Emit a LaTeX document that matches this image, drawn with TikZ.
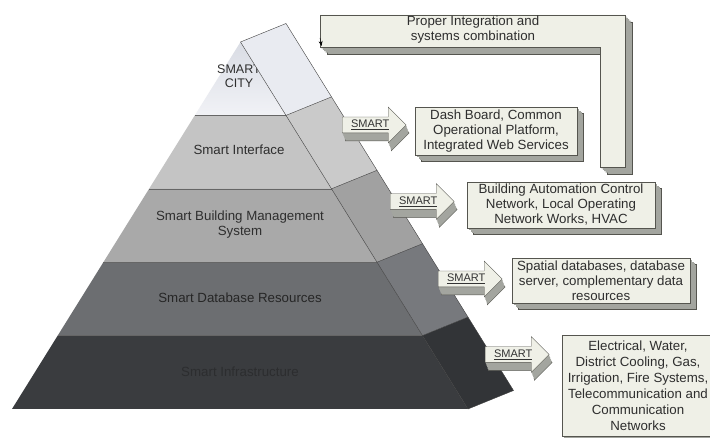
\documentclass[tikz,border=0pt]{standalone}
\usepackage{fontspec}
\setmainfont{Liberation Sans}
\usetikzlibrary{calc,shapes.arrows,shadows,arrows.meta}

\definecolor{cream}{HTML}{EFF0E7}
\definecolor{depthgray}{HTML}{A3A59F}
\definecolor{edgegray}{HTML}{55554F}
\definecolor{textgray}{HTML}{2E2E2E}
% pyramid layers, front and side faces
\definecolor{cityTop}{HTML}{D9DCE4}
\definecolor{cityBot}{HTML}{F1F2F6}
\definecolor{citySide}{HTML}{E9EBF1}
\definecolor{ifFront}{HTML}{C4C4C4}
\definecolor{ifSide}{HTML}{CACACA}
\definecolor{bmsFront}{HTML}{A9A9A9}
\definecolor{bmsSide}{HTML}{A1A1A1}
\definecolor{dbFront}{HTML}{6C6E71}
\definecolor{dbSide}{HTML}{77797D}
\definecolor{infFront}{HTML}{3A3C3F}
\definecolor{infSide}{HTML}{323437}

\tikzset{
    deep/.style 2 args={%
        copy shadow={shadow xshift=#1,shadow yshift=-#2,fill=depthgray,draw=edgegray},
        copy shadow={shadow xshift=.8*#1,shadow yshift=-.8*#2,fill=depthgray,draw=none},
        copy shadow={shadow xshift=.6*#1,shadow yshift=-.6*#2,fill=depthgray,draw=none},
        copy shadow={shadow xshift=.4*#1,shadow yshift=-.4*#2,fill=depthgray,draw=none},
        copy shadow={shadow xshift=.2*#1,shadow yshift=-.2*#2,fill=depthgray,draw=none}
    },
    infobox/.style={draw=edgegray,fill=cream,text=textgray,align=center,inner sep=0pt,
        font=\fontsize{13.3}{15}\selectfont,deep={6pt}{6pt}},
    smartarrow/.style={single arrow,draw=edgegray,fill=cream,text=black!80,anchor=tail,
        font=\fontsize{11}{12}\selectfont,minimum height=64pt,single arrow head extend=10pt,
        single arrow tip angle=90,inner xsep=3pt,inner ysep=2.5pt,text height=8pt,text depth=2.5pt,
        deep={3pt}{8pt}},
    layertext/.style={align=center,text=textgray,font=\fontsize{13.3}{15}\selectfont}
}

\begin{document}
\begin{tikzpicture}[x=1pt,y=-1pt]
    \clip (0,0) rectangle (710,438);
    \fill[white] (0,0) rectangle (710,438);
    \coordinate (apex) at (240.5,42);
    \coordinate (bl) at (12,409);
    \coordinate (br) at (468,409);
    %front faces of the layers
    \shade[top color=cityTop,bottom color=cityBot] (apex) -- ($(apex)!.2!(bl)$) -- ($(apex)!.2!(br)$) -- cycle;
    \foreach \a/\b/\c in {.2/.4/ifFront,.4/.6/bmsFront,.6/.8/dbFront,.8/1/infFront}
        {%
            \fill[\c] ($(apex)!\a!(bl)$) -- ($(apex)!\b!(bl)$) -- ($(apex)!\b!(br)$) -- ($(apex)!\a!(br)$) -- cycle;
            \draw[gray!80!black,thin] ($(apex)!\a!(bl)$) -- ($(apex)!\a!(br)$);
        }
    %layer names
    \node[layertext,font=\fontsize{12.5}{13.5}\selectfont] (city) at (239,76) {SMART\\CITY};
    \node[layertext] (iface) at (239,150) {Smart Interface};
    \node[layertext] (bms) at (240,224.5) {Smart Building Management\\System};
    \node[layertext,text=black!85] (db) at (240,298) {Smart Database Resources};
    \node[layertext,text=infFront!75!black] (infra) at (240,372) {Smart Infrastructure};
    %side faces
    \foreach \a/\b/\c in {0/.2/citySide,.2/.4/ifSide,.4/.6/bmsSide,.6/.8/dbSide,.8/1/infSide}
        {%
            \fill[\c] ($(apex)!\a!(br)$) -- ($(apex)!\b!(br)$) -- ($(apex)!\b!(br)+(45.5,-18.5)$) -- ($(apex)!\a!(br)+(45.5,-18.5)$) -- cycle;
            \draw[black!75,thin] ($(apex)!\a!(br)$) -- ($(apex)!\a!(br)+(45.5,-18.5)$);
        }
    \draw[black!75,thin] (apex) -- (br) -- ++(45.5,-18.5) -- ($(apex)+(45.5,-18.5)$);
    %integration frame
    \draw[edgegray,fill=cream,deep={7pt}{7pt}] (320,15) -- (625,15) -- (625,167) -- (600,167) -- (600,47) -- (320,47) -- cycle;
    \draw[-{Stealth[length=5pt,width=4pt]},black] (320,38) -- (321.5,46);
    \node[layertext] (integ) at (473,30) {Proper Integration and\\systems combination};
    %smart arrows
    \node[smartarrow] (s1) at (342,125) {\underline{SMART}};
    \node[smartarrow] (s2) at (390,201.5) {\underline{SMART}};
    \node[smartarrow] (s3) at (438,279) {\underline{SMART}};
    \node[smartarrow] (s4) at (485,354.5) {\underline{SMART}};
    %boxes
    \node[infobox,minimum width=162pt,minimum height=48pt] (dash) at (496,131) {Dash Board, Common\\Operational Platform,\\Integrated Web Services};
    \node[infobox,minimum width=188pt,minimum height=46pt] (bacn) at (561,205) {Building Automation Control\\Network, Local Operating\\Network Works, HVAC};
    \node[infobox,minimum width=178pt,minimum height=45pt] (spatial) at (601,280.5) {Spatial databases, database\\server, complementary data\\resources};
    \node[infobox,minimum width=152pt,minimum height=101pt,font=\fontsize{13.3}{16}\selectfont] (utility) at (638,385.5) {Electrical, Water,\\District Cooling, Gas,\\Irrigation, Fire Systems,\\Telecommunication and\\Communication\\Networks};
\end{tikzpicture}
\end{document}
